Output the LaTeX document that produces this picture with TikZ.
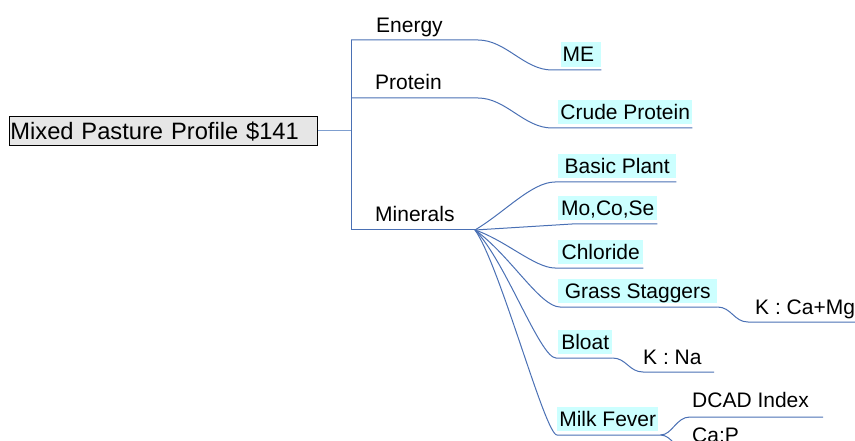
\documentclass[tikz,border=0pt]{standalone}
\usepackage{fontspec}
\setmainfont{Liberation Sans}
\usetikzlibrary{calc}
\definecolor{lnk}{HTML}{4A70B4}
\definecolor{stubc}{HTML}{7F9FCF}
\definecolor{cy}{HTML}{CCFFFF}
\definecolor{rootfill}{HTML}{E6E6E6}
\begin{document}
\begin{tikzpicture}[x=1pt,y=-1pt,
  lab/.style={anchor=base west, inner sep=0pt, font=\fontsize{21}{25}\selectfont},
  cbox/.style={anchor=south west, fill=cy, inner xsep=0pt, inner ysep=0pt, text height=19.5pt, text depth=5pt, font=\fontsize{21}{25}\selectfont},
  link/.style={draw=lnk, line width=1pt},
  stublink/.style={draw=stubc, line width=1pt},
  rootbox/.style={draw=black, line width=0.8pt, fill=rootfill, anchor=north west, text width=306pt, inner xsep=1pt, inner ysep=0pt, align=left, text height=23pt, text depth=6pt, font=\fontsize{23.7}{28}\selectfont}
]
\useasboundingbox (0,0) rectangle (855,441);
\clip (0,0) rectangle (855,441);

% root
\node[rootbox] (root) at (9,116) {Mixed Pasture Profile \$141};
\coordinate (spT) at (351,40);
\coordinate (spP) at (351,98);
\coordinate (spB) at (351,230);
\draw[stublink] (root.east) -- (root.east -| spT);
\draw[link] (spT) -- (spB);

% level 1 labels
\node[lab] (energy) at (376,33) {Energy};
\node[lab] (protein) at (375,90) {Protein};
\node[lab] (minerals) at (375,222) {Minerals};
\coordinate (eJ) at (478,40);
\coordinate (pJ) at (478,98);
\coordinate (mJ) at (475,230);

% level 2 boxes
\node[cbox, text width=37pt, inner xsep=1.5pt, align=left] (me) at (561,67) {ME};
\node[cbox, minimum width=134pt] (cp) at (558,124.5) {Crude Protein};
\node[cbox, minimum width=118pt] (bp) at (558,178.5) {Basic Plant};
\node[cbox, minimum width=99pt] (mcs) at (558,220.5) {Mo,Co,Se};
\node[cbox, minimum width=85pt] (chl) at (558,264.5) {Chloride};
\node[cbox, minimum width=159pt] (gs) at (558,303.5) {Grass Staggers};
\node[cbox, minimum width=54pt] (bloat) at (558,354.5) {Bloat};
\node[cbox, minimum width=101pt] (mf) at (557,431.5) {Milk Fever};

\coordinate (meL) at (552,70);
\coordinate (cpL) at (552,128);
\coordinate (bpL) at (555,182);
\coordinate (mcsL) at (572,224);
\coordinate (chlL) at (555,268);
\coordinate (gsL) at (560,307);
\coordinate (blL) at (556,358);
\coordinate (mfL) at (557,435);

\coordinate (meR) at ($(me.south east)+(0,3)$);
\coordinate (cpR) at ($(cp.south east)+(0,3.5)$);
\coordinate (bpR) at ($(bp.south east)+(0,3.5)$);
\coordinate (mcsR) at ($(mcs.south east)+(0,3.5)$);
\coordinate (chlR) at ($(chl.south east)+(0,3.5)$);
\coordinate (gsR) at ($(gs.south east)+(0,3.5)$);
\coordinate (blR) at ($(bloat.south east)+(0,3.5)$);
\coordinate (mfR) at ($(mf.south east)+(2,3.5)$);

% level 1 connectors
\draw[link] (spT) -- (eJ) .. controls +(28,0) and +(-28,0) .. (meL) -- (meR);
\draw[link] (spP) -- (pJ) .. controls +(28,0) and +(-28,0) .. (cpL) -- (cpR);
\draw[link] (spB) -- (mJ);

% minerals children
\draw[link] (mJ) .. controls (505,212) and (532,182) .. (bpL) -- (bpR);
\draw[link] (mJ) -- (mcsL) -- (mcsR);
\draw[link] (mJ) .. controls (505,240) and (535,268) .. (chlL) -- (chlR);
\draw[link] (mJ) .. controls (510,255) and (540,307) .. (gsL) -- (gsR);
\draw[link] (mJ) .. controls (505,260) and (540,358) .. (blL) -- (blR);
\draw[link] (mJ) .. controls (500,265) and (545,435) .. (mfL) -- (mfR);

% level 3
\node[lab] (kcamg) at (755,314) {K : Ca+Mg};
\node[lab] (kna) at (643,364) {K : Na};
\node[lab] (dcad) at (692,407) {DCAD Index};
\node[lab] (cap) at (692,442) {Ca:P};
\coordinate (kcL) at (748,322);
\coordinate (kcR) at (857,322);
\coordinate (knL) at (643,372);
\coordinate (knR) at (714,372);
\coordinate (dcL) at (690,417);
\coordinate (dcR) at (823,417);
\coordinate (caL) at (690,452);
\coordinate (caR) at (760,452);

\draw[link] (gsR) .. controls +(14,0) and +(-14,0) .. (kcL) -- (kcR);
\draw[link] (blR) .. controls +(14,0) and +(-14,0) .. (knL) -- (knR);
\draw[link] (mfR) .. controls +(12,0) and +(-14,0) .. (dcL) -- (dcR);
\draw[link] (mfR) .. controls +(12,0) and +(-14,0) .. (caL) -- (caR);
\end{tikzpicture}
\end{document}
